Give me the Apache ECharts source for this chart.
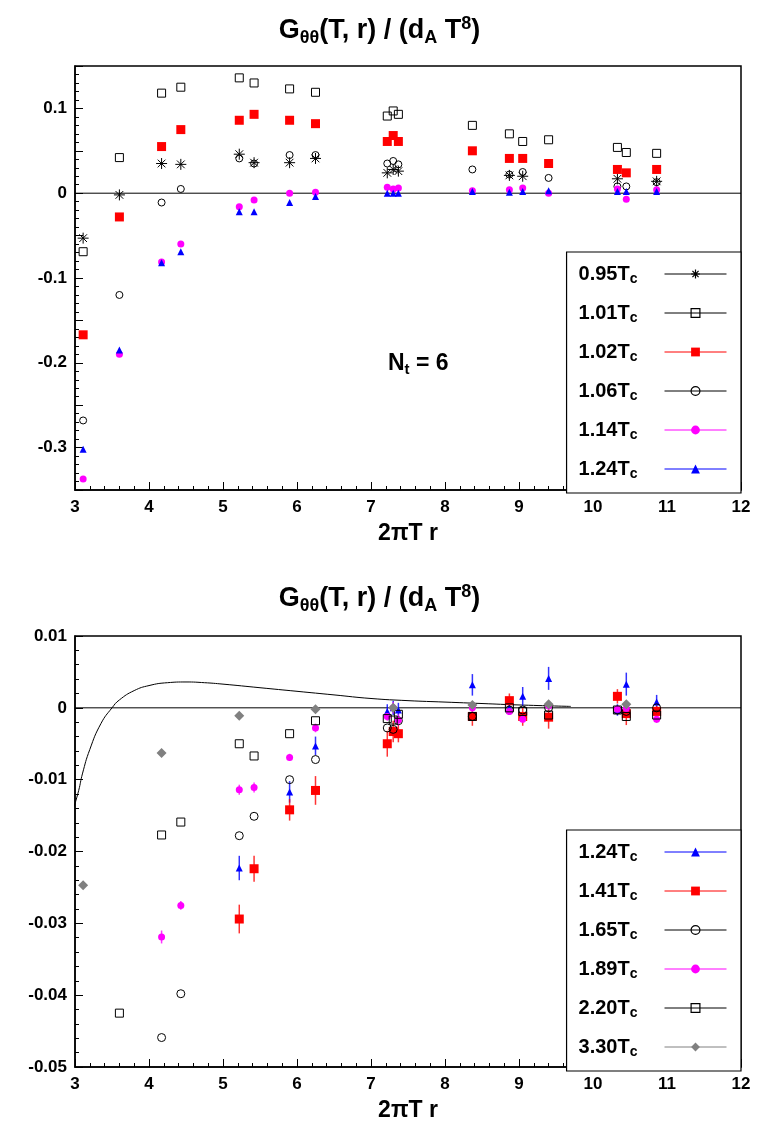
<!DOCTYPE html>
<html><head><meta charset="utf-8">
<script src="https://cdn.jsdelivr.net/npm/echarts@6/dist/echarts.min.js"></script>
<style>html,body{margin:0;background:#fff}#c{width:759px;height:1137px}</style>
</head><body><div id="c"></div>
<script>
// 2πT r positions
const xr = [3.11, 3.60, 4.17, 4.43, 5.22, 5.42, 5.90, 6.25, 7.22, 7.30, 7.37, 8.37, 8.87, 9.05, 9.40, 10.33, 10.45, 10.86];

// top panel, N_t = 6  (null = no point)
const t095 = [-0.053, -0.002, 0.035, 0.034, 0.046, 0.036, 0.036, 0.041, 0.024, 0.028, 0.026, null, 0.021, 0.020, null, 0.017, null, 0.014];
const t101 = [-0.069, 0.042, 0.118, 0.125, 0.136, 0.130, 0.123, 0.119, 0.091, 0.097, 0.093, 0.080, 0.070, 0.061, 0.063, 0.054, 0.048, 0.047];
const t102 = [-0.167, -0.028, 0.055, 0.075, 0.086, 0.093, 0.086, 0.082, 0.061, 0.068, 0.061, 0.050, 0.041, 0.041, 0.035, 0.028, 0.024, 0.028];
const t106 = [-0.268, -0.120, -0.011, 0.005, 0.041, 0.035, 0.045, 0.045, 0.035, 0.038, 0.034, 0.028, 0.022, 0.025, 0.018, 0.008, 0.008, 0.013];
const t114 = [-0.337, -0.190, -0.081, -0.060, -0.016, -0.008, 0.000, 0.001, 0.007, 0.005, 0.006, 0.003, 0.004, 0.006, 0.000, 0.005, -0.007, 0.004];
const t124 = [-0.302, -0.185, -0.082, -0.069, -0.022, -0.022, -0.011, -0.004, 0.000, 0.000, 0.000, 0.002, 0.001, 0.002, 0.003, 0.002, 0.002, 0.002];

// bottom panel
const b124 = [null, null, null, null, -0.0223, null, -0.0117, -0.0053, -0.0005, 0.0000, -0.0003, 0.0032, 0.0000, 0.0016, 0.0041, -0.0003, 0.0033, 0.0008];
const b141 = [null, null, null, null, -0.0294, -0.0224, -0.0142, -0.0115, -0.0050, -0.0033, -0.0036, -0.0012, 0.0010, -0.0012, -0.0013, 0.0016, -0.0008, -0.0005];
const b165 = [null, null, -0.0459, -0.0398, -0.0178, -0.0151, -0.0100, -0.0072, -0.0028, -0.0030, -0.0018, -0.0012, -0.0003, -0.0003, 0.0000, -0.0003, -0.0005, 0.0000];
const b189 = [null, null, -0.0319, -0.0275, -0.0114, -0.0111, -0.0069, -0.0028, -0.0012, 0.0000, -0.0017, 0.0000, -0.0005, -0.0016, 0.0003, -0.0002, -0.0001, -0.0016];
const b220 = [null, -0.0425, -0.0177, -0.0159, -0.0050, -0.0067, -0.0036, -0.0018, -0.0015, -0.0017, -0.0009, -0.0012, 0.0000, -0.0005, -0.0010, -0.0003, -0.0012, -0.0010];
const b330 = [-0.0247, null, -0.0063, null, -0.0011, null, null, -0.0002, null, 0.0000, null, 0.0004, null, null, 0.0005, null, 0.0005, null];
// error bar half-widths
const e124 = [0, 0, 0, 0, 0.0017, 0, 0.0015, 0.0013, 0.0010, 0.0010, 0.0010, 0.0015, 0.0010, 0.0013, 0.0016, 0.0008, 0.0016, 0.0010];
const e141 = [0, 0, 0, 0, 0.0020, 0.0018, 0.0015, 0.0020, 0.0018, 0.0015, 0.0012, 0.0013, 0.0010, 0.0013, 0.0016, 0.0010, 0.0016, 0.0008];
const e189 = [0, 0, 0.0009, 0.0006, 0.0007, 0.0007, 0.0005, 0.0006, 0.0006, 0.0008, 0.0008, 0.0008, 0.0005, 0.0005, 0.0006, 0.0005, 0.0005, 0.0005];

// perturbative curve
const curveX = [2.98, 3.05, 3.1, 3.2, 3.35, 3.5, 3.6, 3.8, 4.0, 4.25, 4.5, 4.75, 5.0, 5.5, 6.0, 6.5, 7.0, 7.5, 8.0, 8.5, 9.0, 9.7];
const curveY = [-0.0140, -0.0115, -0.0092, -0.0058, -0.0022, 0.0000, 0.0011, 0.0024, 0.0031, 0.0035, 0.0036, 0.0035, 0.0033, 0.0028, 0.0023, 0.0018, 0.0013, 0.0010, 0.0008, 0.0006, 0.0004, 0.0002];

const star = 'path://M0,-10L0,10M-10,0L10,0M-7,-7L7,7M-7,7L7,-7';
const pts = (ys) => xr.map((x, i) => [x, ys[i]]).filter(p => p[1] !== null);

function mk(name, ys, idx, symbol, color, filled, size) {
  return {
    name, type: 'line', xAxisIndex: idx, yAxisIndex: idx, data: pts(ys),
    symbol, symbolSize: size, showSymbol: true,
    lineStyle: { width: 0, color }, z: 3,
    itemStyle: filled ? { color, borderColor: color, borderWidth: 0 }
                      : { color: 'rgba(0,0,0,0)', borderColor: color, borderWidth: 1 }
  };
}
function errs(ys, es, idx, color) {
  return {
    type: 'custom', xAxisIndex: idx, yAxisIndex: idx, silent: true, z: 2,
    data: xr.map((x, i) => [x, ys[i], es[i]]).filter(d => d[1] !== null && d[2] > 0),
    renderItem: (p, api) => {
      const a = api.coord([api.value(0), api.value(1) - api.value(2)]);
      const b = api.coord([api.value(0), api.value(1) + api.value(2)]);
      return { type: 'line', shape: { x1: a[0], y1: a[1], x2: b[0], y2: b[1] }, style: { stroke: color, lineWidth: 1.5, opacity: 0.8 } };
    }
  };
}

const font = 'Liberation Sans, Arial, sans-serif';
const rich = { b: { fontSize: 20, fontWeight: 'bold', fontFamily: font, color: '#000' }, s: { fontSize: 14, fontWeight: 'bold', fontFamily: font, padding: [10, 0, 0, 0], color: '#000' } };
const legFmt = n => '{b|' + n.trim().replace('Tc', 'T') + '}{s|c}';
const titleRich = { b: { fontSize: 27, fontWeight: 'bold', fontFamily: font, color: '#000' }, s: { fontSize: 18, fontWeight: 'bold', fontFamily: font, color: '#000', padding: [14, 0, 0, 0] }, u: { fontSize: 18, fontWeight: 'bold', fontFamily: font, color: '#000', padding: [0, 0, 14, 0] } };
const titleText = '{b|G}{s|θθ}{b|(T, r) / (d}{s|A}{b| T}{u|8}{b|)}';

function axes(idx, min, max, interval, fmt) {
  return {
    x: { type: 'value', gridIndex: idx, min: 3, max: 12, interval: 1, minorTick: { show: true, splitNumber: 5, length: 4, lineStyle: { color: '#000' } },
      axisLine: { onZero: false, lineStyle: { color: '#000', width: 1.5 } }, axisTick: { inside: true, length: 8, lineStyle: { color: '#000' } },
      splitLine: { show: false }, axisLabel: { color: '#000', fontSize: 17, fontWeight: 'bold', fontFamily: font, margin: 9 },
      name: '2πT r', nameLocation: 'middle', nameGap: 32, nameTextStyle: { color: '#000', fontSize: 23, fontWeight: 'bold', fontFamily: font } },
    y: { type: 'value', gridIndex: idx, min, max, interval, minorTick: { show: true, splitNumber: 5, length: 4, lineStyle: { color: '#000' } },
      axisLine: { lineStyle: { color: '#000', width: 1.5 } }, axisTick: { inside: true, length: 8, lineStyle: { color: '#000' } },
      splitLine: { show: false }, axisLabel: { color: '#000', fontSize: 17, fontWeight: 'bold', fontFamily: font, formatter: fmt } }
  };
}
const isTenth = v => Math.abs(Math.round(v * 10) - v * 10) < 1e-6;
const A0 = axes(0, -0.35, 0.15, 0.05, v => isTenth(v) ? (Math.abs(v) < 1e-9 ? '0' : String(+v.toFixed(2))) : '');
const A1 = axes(1, -0.05, 0.01, 0.01, v => Math.abs(v) < 1e-9 ? '0' : v.toFixed(2));

const legItem = (name, color, filled) => ({ name,
  itemStyle: filled ? { color, borderWidth: 0 } : { color: 'rgba(0,0,0,0)', borderColor: color, borderWidth: 1.2 } });
const legBase = { orient: 'vertical', right: 18, itemWidth: 62, itemHeight: 11, itemGap: 17, align: 'right',
  padding: [12, 14, 12, 12], borderColor: '#000', borderWidth: 1.2, backgroundColor: '#fff',
  lineStyle: { width: 1 }, formatter: legFmt, textStyle: { rich, padding: [0, 22, 0, 0] } };

const chart = echarts.init(document.getElementById('c'));
chart.setOption({
  animation: false,
  title: [
    { text: titleText, left: 'center', top: 10, textStyle: { rich: titleRich } },
    { text: titleText, left: 'center', top: 578, textStyle: { rich: titleRich } }
  ],
  grid: [
    { left: 75, right: 18, top: 66, height: 424, show: true, borderColor: '#000', borderWidth: 1.5 },
    { left: 75, right: 18, top: 636, height: 431, show: true, borderColor: '#000', borderWidth: 1.5 }
  ],
  xAxis: [A0.x, A1.x],
  yAxis: [A0.y, A1.y],
  legend: [
    Object.assign({}, legBase, { top: 252, data: [
      legItem('0.95Tc', '#000', false), legItem('1.01Tc', '#000', false), legItem('1.02Tc', '#f00', true),
      legItem('1.06Tc', '#000', false), legItem('1.14Tc', '#f0f', true), legItem('1.24Tc', '#00f', true)] }),
    Object.assign({}, legBase, { top: 830, data: [
      legItem('1.24Tc ', '#00f', true), legItem('1.41Tc', '#f00', true), legItem('1.65Tc', '#000', false),
      legItem('1.89Tc', '#f0f', true), legItem('2.20Tc', '#000', false), legItem('3.30Tc', '#808080', true)] })
  ],
  graphic: [{ type: 'text', left: 388, top: 352, style: { text: '{n|N}{t|t}{n| = 6}', rich: { n: { fontSize: 23, fontWeight: 'bold', fontFamily: font }, t: { fontSize: 15, fontWeight: 'bold', fontFamily: font, padding: [12, 0, 0, 0] } } } }],
  series: [
    { type: 'line', xAxisIndex: 0, yAxisIndex: 0, data: [[3, 0], [12, 0]], symbol: 'none', lineStyle: { color: '#000', width: 1 }, silent: true, z: 1 },
    { type: 'line', xAxisIndex: 1, yAxisIndex: 1, data: [[3, 0], [12, 0]], symbol: 'none', lineStyle: { color: '#000', width: 1 }, silent: true, z: 1 },
    { type: 'line', xAxisIndex: 1, yAxisIndex: 1, data: curveX.map((x, i) => [x, curveY[i]]), symbol: 'none', smooth: true, lineStyle: { color: '#000', width: 1 }, silent: true, z: 1 },
    mk('0.95Tc', t095, 0, star, '#000', false, 11),
    mk('1.01Tc', t101, 0, 'rect', '#000', false, 8),
    mk('1.02Tc', t102, 0, 'rect', '#f00', true, 9),
    mk('1.06Tc', t106, 0, 'circle', '#000', false, 7),
    mk('1.14Tc', t114, 0, 'circle', '#f0f', true, 7),
    mk('1.24Tc', t124, 0, 'triangle', '#00f', true, 7),
    errs(b124, e124, 1, '#00f'), errs(b141, e141, 1, '#f00'), errs(b189, e189, 1, '#f0f'),
    mk('1.24Tc ', b124, 1, 'triangle', '#00f', true, 7),
    mk('1.41Tc', b141, 1, 'rect', '#f00', true, 9),
    mk('1.65Tc', b165, 1, 'circle', '#000', false, 8),
    mk('1.89Tc', b189, 1, 'circle', '#f0f', true, 7),
    mk('2.20Tc', b220, 1, 'rect', '#000', false, 8),
    mk('3.30Tc', b330, 1, 'diamond', '#808080', true, 10)
  ]
});
</script></body></html>
